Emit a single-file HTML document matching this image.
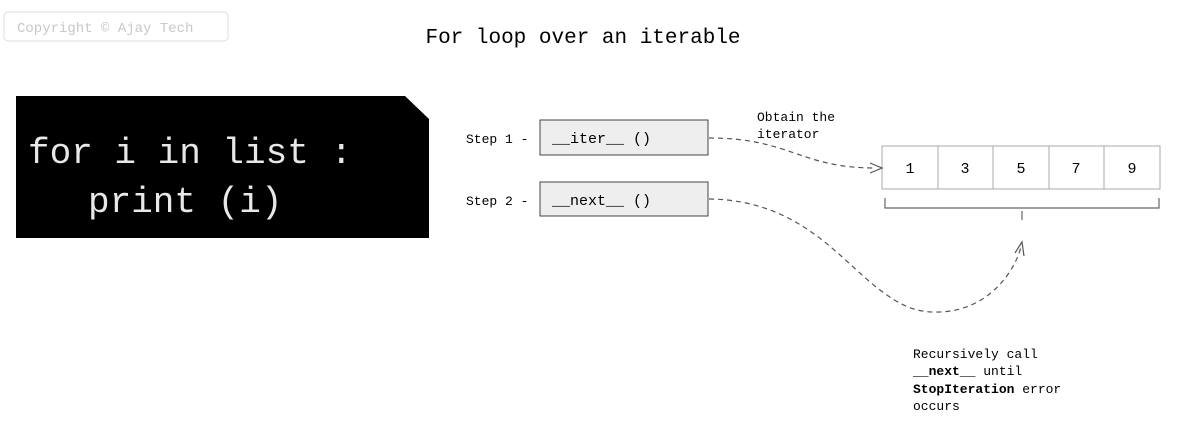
<!DOCTYPE html>
<html><head><style>body{margin:0;background:#fff}</style></head><body>
<svg width="1179" height="432" xmlns="http://www.w3.org/2000/svg" font-family="Liberation Mono, DejaVu Sans Mono, monospace">
<rect x="4" y="12" width="224" height="29" rx="4" fill="#fff" stroke="#ddd"/>
<text x="17" y="32" font-size="14" fill="#c8c8c8">Copyright © Ajay Tech</text>
<text x="583" y="43" font-size="21" text-anchor="middle" fill="#000">For loop over an iterable</text>
<path d="M16,96 L405,96 L429,119 L429,238 L16,238 Z" fill="#000"/>
<text x="28" y="163" font-size="36" fill="#e8e8e8">for i in list :</text>
<text x="88" y="212" font-size="36" fill="#e8e8e8">print (i)</text>
<text x="466" y="143" font-size="13">Step 1 -</text>
<text x="466" y="205" font-size="13">Step 2 -</text>
<rect x="540" y="120" width="168" height="35" fill="#eeeeee" stroke="#444"/>
<rect x="540" y="182" width="168" height="34" fill="#eeeeee" stroke="#444"/>
<text x="552" y="143" font-size="15">__iter__ ()</text>
<text x="552" y="205" font-size="15">__next__ ()</text>
<text x="757" y="121" font-size="13">Obtain the</text>
<text x="757" y="138" font-size="13">iterator</text>
<g stroke="#aaa" fill="#fff">
<rect x="882" y="146" width="56" height="43"/><rect x="938" y="146" width="55" height="43"/><rect x="993" y="146" width="56" height="43"/><rect x="1049" y="146" width="55" height="43"/><rect x="1104" y="146" width="56" height="43"/>
</g>
<g font-size="15" text-anchor="middle"><text x="910" y="173">1</text><text x="965" y="173">3</text><text x="1021" y="173">5</text><text x="1076" y="173">7</text><text x="1132" y="173">9</text></g>
<path d="M885,198 V208 H1159 V198 M1022,211 V220" fill="none" stroke="#666" stroke-width="1.2"/>
<g fill="none" stroke="#555" stroke-dasharray="5,4" stroke-width="1.2">
<path d="M709,138 C790,138 800,168 875,168"/>
<path d="M709,199 C800,200 840,260 880,290 C900,305 915,313 940,312 C990,310 1015,270 1021,247"/>
</g>
<path d="M870,163 L882,168 L870,173" fill="none" stroke="#555" stroke-width="1.2"/>
<path d="M1015,253 L1022,242 L1024,256" fill="none" stroke="#555" stroke-width="1.2"/>
<g font-size="13"><text x="913" y="358">Recursively call</text>
<text x="913" y="375"><tspan font-weight="bold">__next__</tspan> until</text>
<text x="913" y="393"><tspan font-weight="bold">StopIteration</tspan> error</text>
<text x="913" y="410">occurs</text></g>
</svg>
</body></html>
